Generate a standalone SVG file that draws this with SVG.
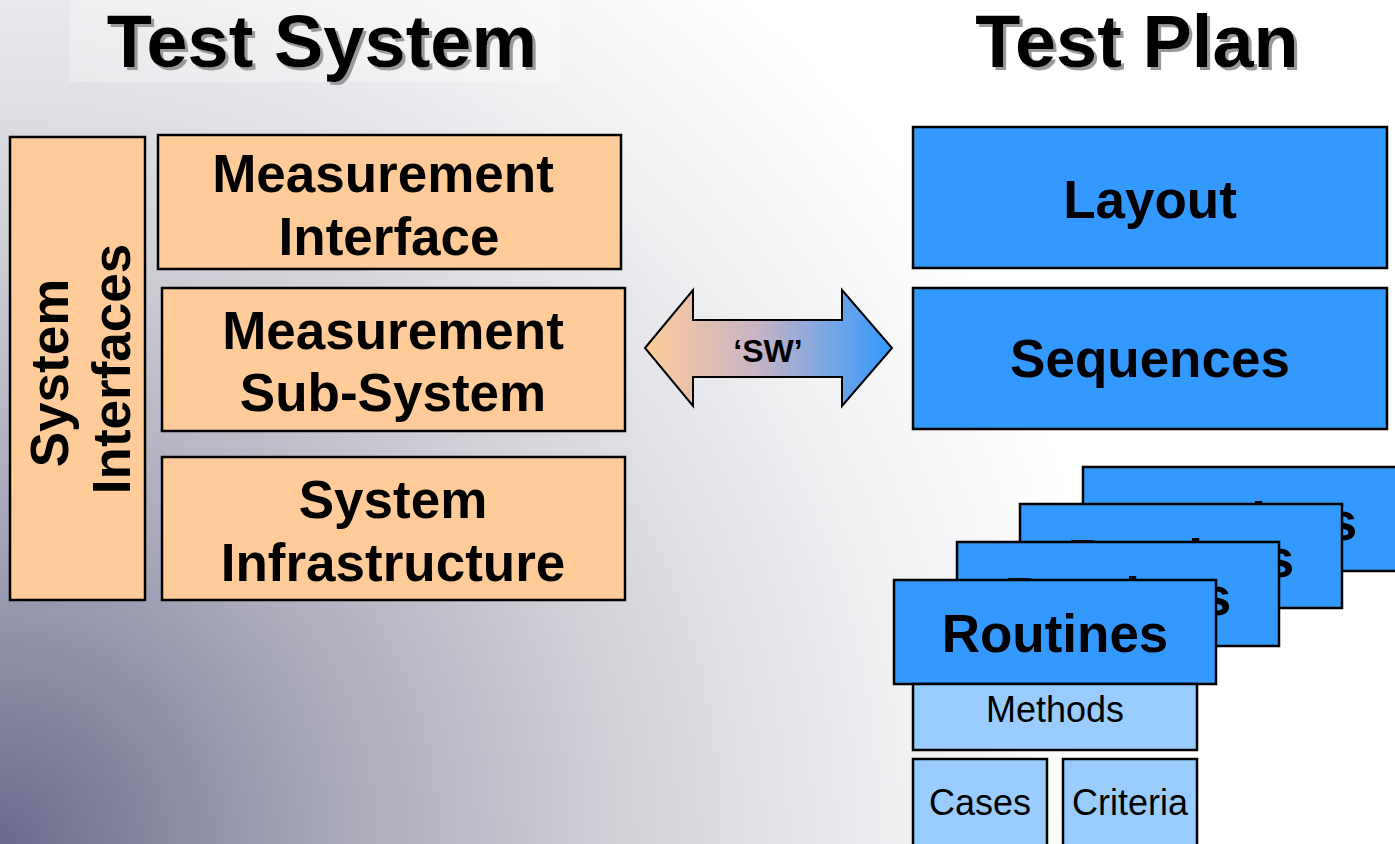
<svg xmlns="http://www.w3.org/2000/svg" width="1395" height="844" viewBox="0 0 1395 844">
<defs>
<radialGradient id="bg" gradientUnits="userSpaceOnUse" cx="0" cy="844" r="1250">
<stop offset="0" stop-color="#6c6a8c"/>
<stop offset="0.25" stop-color="#a5a5b8"/>
<stop offset="0.5" stop-color="#d2d2d9"/>
<stop offset="0.72" stop-color="#efeff2"/>
<stop offset="0.9" stop-color="#ffffff"/>
</radialGradient>
<linearGradient id="arrowGrad" x1="0" y1="0" x2="1" y2="0">
<stop offset="0" stop-color="#ffcc99"/>
<stop offset="0.45" stop-color="#c8b4c4"/>
<stop offset="1" stop-color="#3399ff"/>
</linearGradient>
<filter id="shadow" x="-5%" y="-10%" width="115%" height="130%">
<feDropShadow dx="3" dy="3" stdDeviation="0.6" flood-color="#9a9a9a" flood-opacity="1"/>
</filter>
</defs>
<style>
.box{stroke:#000;stroke-width:2.5}
.orange{fill:#ffcc99}
.blue{fill:#3399ff}
.lblue{fill:#99ccff}
.big{font-family:"Liberation Sans",Arial,sans-serif;font-weight:bold;font-size:53px;fill:#000;text-anchor:middle}
.small{font-family:"Liberation Sans",Arial,sans-serif;font-size:36px;fill:#000;text-anchor:middle}
.title{font-family:"Liberation Sans",Arial,sans-serif;font-weight:bold;font-size:74px;fill:#000;text-anchor:middle}
</style>
<rect x="0" y="0" width="1395" height="844" fill="url(#bg)"/>
<rect x="70" y="0" width="490" height="82" fill="#ffffff" opacity="0.3"/>

<g id="title-test-system"><text class="title" x="322" y="67" filter="url(#shadow)">Test System</text></g>
<g id="title-test-plan"><text class="title" x="1137" y="67" filter="url(#shadow)">Test Plan</text></g>

<g id="system-interfaces">
<rect class="box orange" x="10" y="137" width="135" height="463"/>
<text class="big" transform="translate(68,373) rotate(-90)">System</text>
<text class="big" transform="translate(130,369) rotate(-90)">Interfaces</text>
</g>
<g id="measurement-interface">
<rect class="box orange" x="158" y="135" width="463" height="134"/>
<text class="big" x="383" y="192">Measurement</text>
<text class="big" x="389" y="255">Interface</text>
</g>
<g id="measurement-sub-system">
<rect class="box orange" x="162" y="288" width="463" height="143"/>
<text class="big" x="393" y="349">Measurement</text>
<text class="big" x="393" y="411">Sub-System</text>
</g>
<g id="system-infrastructure">
<rect class="box orange" x="162" y="457" width="463" height="143"/>
<text class="big" x="393" y="518">System</text>
<text class="big" x="393" y="581">Infrastructure</text>
</g>

<g id="connectors">
<path d="M645,348 L693,290 L693,320 L842,320 L842,290 L892,348 L842,406 L842,377 L693,377 L693,406 Z" fill="url(#arrowGrad)" stroke="#000" stroke-width="2"/>
<text x="768" y="362" font-family="'Liberation Sans',Arial,sans-serif" font-weight="bold" font-size="32" text-anchor="middle" fill="#000">‘SW’</text>
</g>

<g id="layout">
<rect class="box blue" x="913" y="127" width="474" height="141"/>
<text class="big" x="1150" y="218">Layout</text>
</g>
<g id="sequences">
<rect class="box blue" x="913" y="288" width="474" height="141"/>
<text class="big" x="1150" y="377">Sequences</text>
</g>
<g id="routines-4">
<rect class="box blue" x="1083" y="467" width="322" height="104"/>
<text class="big" x="1244" y="540">Routines</text>
</g>
<g id="routines-3">
<rect class="box blue" x="1020" y="504" width="322" height="104"/>
<text class="big" x="1181" y="577">Routines</text>
</g>
<g id="routines-2">
<rect class="box blue" x="957" y="542" width="322" height="104"/>
<text class="big" x="1118" y="615">Routines</text>
</g>
<g id="routines">
<rect class="box blue" x="894" y="580" width="322" height="104"/>
<text class="big" x="1055" y="652">Routines</text>
</g>
<g id="methods">
<rect class="box lblue" x="913" y="684" width="284" height="66"/>
<text class="small" x="1055" y="722">Methods</text>
</g>
<g id="cases">
<rect class="box lblue" x="913" y="759" width="134" height="90"/>
<text class="small" x="980" y="815">Cases</text>
</g>
<g id="criteria">
<rect class="box lblue" x="1063" y="759" width="134" height="90"/>
<text class="small" x="1130" y="815">Criteria</text>
</g>
</svg>
